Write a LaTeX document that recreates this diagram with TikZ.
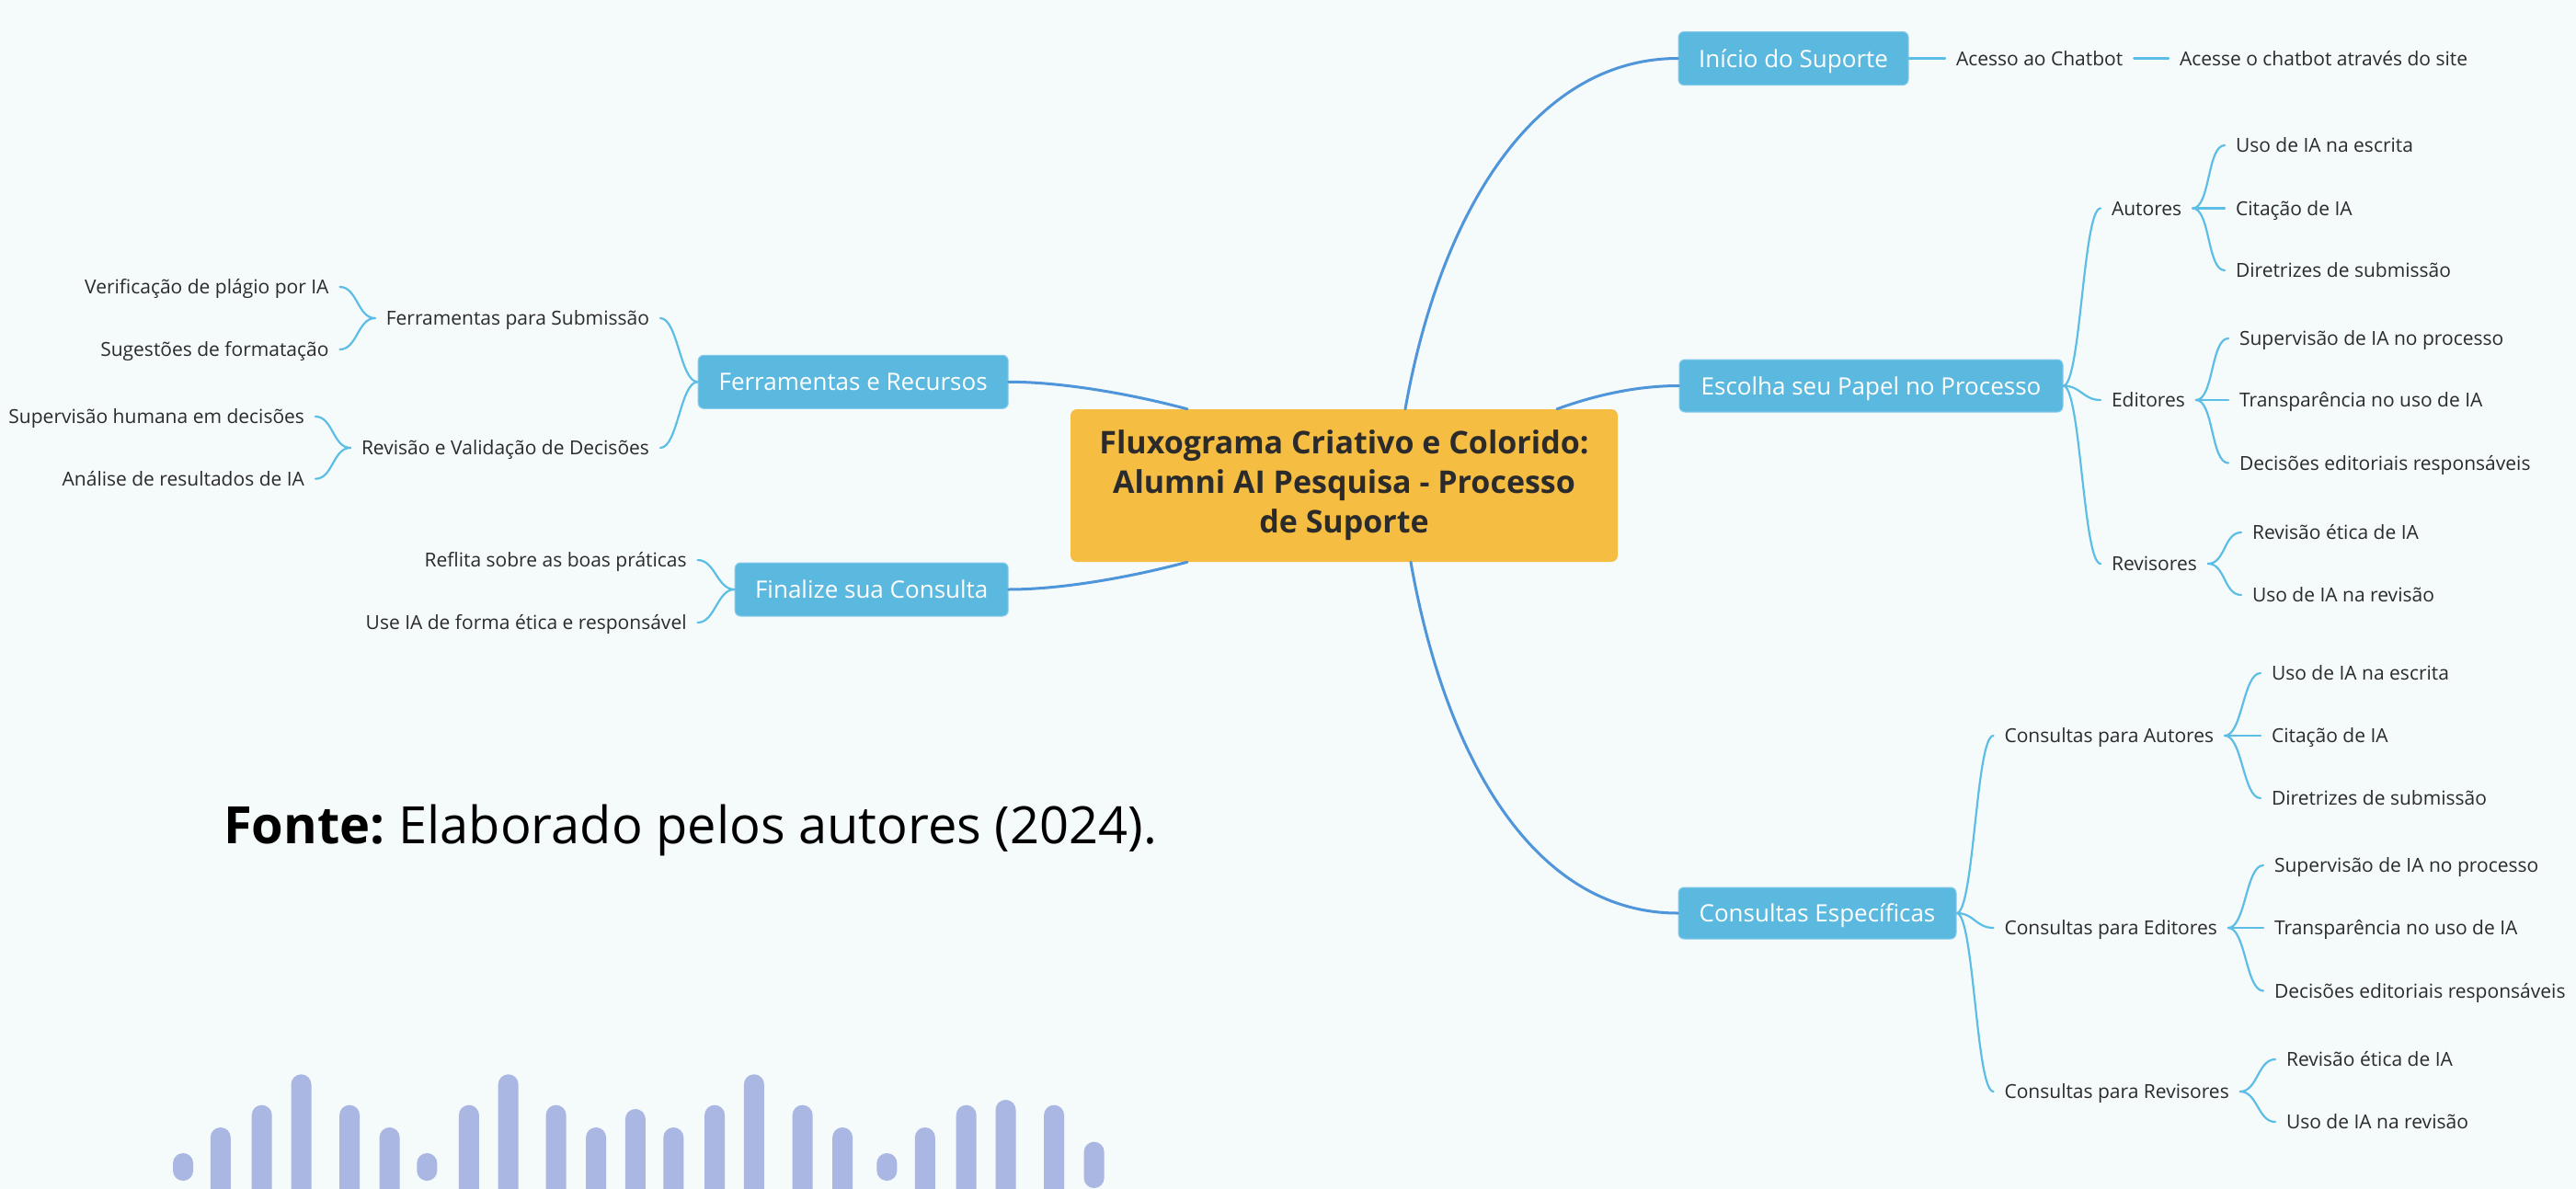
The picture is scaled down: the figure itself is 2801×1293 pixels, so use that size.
\documentclass[tikz,border=0pt]{standalone}
\usepackage{fontspec}
\setmainfont{Open Sans}
\definecolor{bgc}{HTML}{F5FAFB}
\definecolor{mainc}{HTML}{4F95DA}
\definecolor{subc}{HTML}{5CBDE5}
\definecolor{boxc}{HTML}{5BB9DF}
\definecolor{boxedge}{HTML}{86CCEA}
\definecolor{orc}{HTML}{F5BD41}
\definecolor{barc}{HTML}{ABB7E3}
\definecolor{txtc}{HTML}{2B2B2B}
\begin{document}
\begin{tikzpicture}[x=1pt,y=1pt,
  central/.style={fill=orc, rounded corners=7pt, minimum width=595pt, minimum height=166pt, inner sep=0pt, align=center, text=txtc, font=\fontsize{34}{43}\selectfont\bfseries},
  topic/.style={fill=boxc, draw=boxedge, line width=1pt, rounded corners=6pt, inner sep=0pt, text=white, font=\fontsize{26}{30}\selectfont, text height=19pt, text depth=0pt},
  lbl/.style={inner sep=0pt, outer xsep=12pt, text height=15pt, text depth=0pt, font=\fontsize{21}{25}\selectfont, text=txtc},
  mainln/.style={draw=mainc, line width=3pt, line cap=round},
  subln/.style={draw=subc, line width=2.2pt, line cap=round},
  rb/.style={subln, out=0, in=180, out distance=19pt, in distance=19pt},
  lb/.style={subln, out=180, in=0, out distance=19pt, in distance=19pt}]
\fill[bgc] (0,0) rectangle (2801,-1293);
\useasboundingbox (0,0) rectangle (2801,-1293);

% central and main topics
\node[central] (c) at (1461.5,-528) {Fluxograma Criativo e Colorido:\\Alumni AI Pesquisa - Processo\\de Suporte};
\node[topic, minimum width=250pt, minimum height=58pt] (inicio) at (1950,-63.5) {Início do Suporte};
\node[topic, minimum width=417pt, minimum height=57pt] (escolha) at (2034.5,-419.5) {Escolha seu Papel no Processo};
\node[topic, minimum width=302pt, minimum height=56pt] (consesp) at (1976,-993) {Consultas Específicas};
\node[topic, minimum width=337pt, minimum height=58pt] (ferr) at (927.7,-415.3) {Ferramentas e Recursos};
\node[topic, minimum width=297pt, minimum height=58pt] (final) at (947.7,-641) {Finalize sua Consulta};

% main connectors
\draw[mainln] ([xshift=66.5pt]c.north) to[out=80,in=180,out distance=210pt,in distance=160pt] (inicio.west);
\draw[mainln] ([xshift=72.5pt]c.south) to[out=-80,in=180,out distance=210pt,in distance=160pt] (consesp.west);
\draw[mainln] ([xshift=231.5pt]c.north) to[out=20,in=180,out distance=45pt,in distance=45pt] (escolha.west);
\draw[mainln] ([xshift=-170.5pt]c.north) to[out=165,in=0,out distance=60pt,in distance=60pt] (ferr.east);
\draw[mainln] ([xshift=-170.5pt]c.south) to[out=195,in=0,out distance=60pt,in distance=60pt] (final.east);

% Inicio chain
\node[lbl, anchor=west] (acesso) at (2115,-63.5) {Acesso ao Chatbot};
\node[lbl, anchor=west] (acesse) at (2358,-63.5) {Acesse o chatbot através do site};
\draw[subln] (inicio.east) -- (acesso.west);
\draw[subln] (acesso.east) -- (acesse.west);

% Escolha branch
\node[lbl, anchor=west] (aut) at (2284,-226.5) {Autores};
\node[lbl, anchor=west] (edi) at (2284,-435) {Editores};
\node[lbl, anchor=west] (rev) at (2284,-613) {Revisores};
\node[lbl, anchor=west] (aut1) at (2419,-158) {Uso de IA na escrita};
\node[lbl, anchor=west] (aut2) at (2419,-226.5) {Citação de IA};
\node[lbl, anchor=west] (aut3) at (2419,-294) {Diretrizes de submissão};
\node[lbl, anchor=west] (edi1) at (2423,-368) {Supervisão de IA no processo};
\node[lbl, anchor=west] (edi2) at (2423,-435) {Transparência no uso de IA};
\node[lbl, anchor=west] (edi3) at (2423,-503.5) {Decisões editoriais responsáveis};
\node[lbl, anchor=west] (rev1) at (2437,-579) {Revisão ética de IA};
\node[lbl, anchor=west] (rev2) at (2437,-647) {Uso de IA na revisão};
\foreach \k in {aut,edi,rev} \draw[rb] (escolha.east) to (\k.west);
\foreach \k in {aut1,aut2,aut3} \draw[rb] (aut.east) to (\k.west);
\foreach \k in {edi1,edi2,edi3} \draw[rb] (edi.east) to (\k.west);
\foreach \k in {rev1,rev2} \draw[rb] (rev.east) to (\k.west);

% Consultas Especificas branch
\node[lbl, anchor=west] (cpa) at (2167.5,-800) {Consultas para Autores};
\node[lbl, anchor=west] (cpe) at (2167.5,-1009) {Consultas para Editores};
\node[lbl, anchor=west] (cpr) at (2167.5,-1187) {Consultas para Revisores};
\node[lbl, anchor=west] (cpa1) at (2458,-732) {Uso de IA na escrita};
\node[lbl, anchor=west] (cpa2) at (2458,-800) {Citação de IA};
\node[lbl, anchor=west] (cpa3) at (2458,-868) {Diretrizes de submissão};
\node[lbl, anchor=west] (cpe1) at (2461,-941) {Supervisão de IA no processo};
\node[lbl, anchor=west] (cpe2) at (2461,-1009) {Transparência no uso de IA};
\node[lbl, anchor=west] (cpe3) at (2461,-1077.5) {Decisões editoriais responsáveis};
\node[lbl, anchor=west] (cpr1) at (2474,-1152) {Revisão ética de IA};
\node[lbl, anchor=west] (cpr2) at (2474,-1220) {Uso de IA na revisão};
\foreach \k in {cpa,cpe,cpr} \draw[rb] (consesp.east) to (\k.west);
\foreach \k in {cpa1,cpa2,cpa3} \draw[rb] (cpa.east) to (\k.west);
\foreach \k in {cpe1,cpe2,cpe3} \draw[rb] (cpe.east) to (\k.west);
\foreach \k in {cpr1,cpr2} \draw[rb] (cpr.east) to (\k.west);

% Ferramentas branch
\node[lbl, anchor=east] (fps) at (718,-346) {Ferramentas para Submissão};
\node[lbl, anchor=east] (rvd) at (718,-487) {Revisão e Validação de Decisões};
\node[lbl, anchor=east] (fps1) at (369.5,-312) {Verificação de plágio por IA};
\node[lbl, anchor=east] (fps2) at (369.5,-380) {Sugestões de formatação};
\node[lbl, anchor=east] (rvd1) at (343,-453) {Supervisão humana em decisões};
\node[lbl, anchor=east] (rvd2) at (343,-520.7) {Análise de resultados de IA};
\foreach \k in {fps,rvd} \draw[lb] (ferr.west) to (\k.east);
\foreach \k in {fps1,fps2} \draw[lb] (fps.west) to (\k.east);
\foreach \k in {rvd1,rvd2} \draw[lb] (rvd.west) to (\k.east);

% Finalize branch
\node[lbl, anchor=east] (fin1) at (758.6,-609) {Reflita sobre as boas práticas};
\node[lbl, anchor=east] (fin2) at (758.6,-677) {Use IA de forma ética e responsável};
\foreach \k in {fin1,fin2} \draw[lb] (final.west) to (\k.east);

% source line
\node[anchor=base west, inner sep=0pt, font=\fontsize{56}{67}\selectfont, text=black] (fonte) at (243,-917) {\textbf{Fonte:}\ Elaborado pelos autores (2024).};

% decorative bars
\foreach \x/\t in {239.8/1226, 284.7/1201.7, 327.5/1168.3, 380.1/1201.7, 423.6/1226, 509.9/1201.7, 552.7/1168.3, 604.6/1201.7, 648.1/1226, 690.9/1206, 732.3/1226, 777.1/1201.7, 819.9/1168.3, 872.6/1201.7, 916.1/1226, 1005.8/1226, 1050.7/1201.7, 1093.5/1196, 1146.1/1201.7}
  \fill[barc] (\x-11,-1293) -- (\x-11,-\t-11) arc[start angle=180,end angle=0,radius=11] -- (\x+11,-1293) -- cycle;
\foreach \x in {199.1, 464.3, 964.4}
  \fill[barc, rounded corners=10.9pt] (\x-11,-1254) rectangle (\x+11,-1284);
\fill[barc, rounded corners=10.9pt] (1189.6-11,-1241.7) rectangle (1189.6+11,-1292);
\end{tikzpicture}
\end{document}
